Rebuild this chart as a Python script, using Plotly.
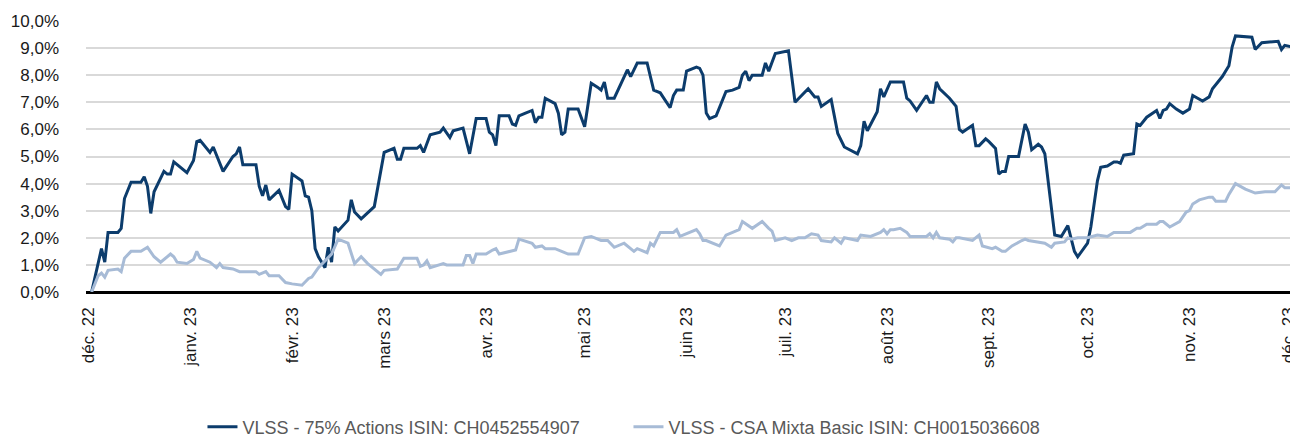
import plotly.graph_objects as go

# --- data (performance in %) ---
dates_actions = [
    "2022-12-02", "2022-12-05", "2022-12-06", "2022-12-07", "2022-12-10", "2022-12-11", "2022-12-12",
    "2022-12-14", "2022-12-17", "2022-12-18", "2022-12-19", "2022-12-20", "2022-12-21", "2022-12-24",
    "2022-12-25", "2022-12-26", "2022-12-27", "2022-12-29", "2022-12-31", "2023-01-02", "2023-01-03",
    "2023-01-04", "2023-01-07", "2023-01-08", "2023-01-11", "2023-01-14", "2023-01-15", "2023-01-16",
    "2023-01-17", "2023-01-21", "2023-01-22", "2023-01-23", "2023-01-24", "2023-01-25", "2023-01-28",
    "2023-01-30", "2023-01-31", "2023-02-01", "2023-02-04", "2023-02-05", "2023-02-06", "2023-02-07",
    "2023-02-08", "2023-02-09", "2023-02-11", "2023-02-12", "2023-02-13", "2023-02-14", "2023-02-15",
    "2023-02-18", "2023-02-19", "2023-02-20", "2023-02-22", "2023-02-26", "2023-03-01", "2023-03-04",
    "2023-03-05", "2023-03-06", "2023-03-07", "2023-03-11", "2023-03-12", "2023-03-13", "2023-03-15",
    "2023-03-18", "2023-03-19", "2023-03-21", "2023-03-22", "2023-03-25", "2023-03-27", "2023-03-29",
    "2023-04-01", "2023-04-02", "2023-04-03", "2023-04-04", "2023-04-05", "2023-04-08", "2023-04-09",
    "2023-04-10", "2023-04-11", "2023-04-13", "2023-04-15", "2023-04-16", "2023-04-17", "2023-04-18",
    "2023-04-19", "2023-04-22", "2023-04-23", "2023-04-24", "2023-04-25", "2023-04-26", "2023-04-29",
    "2023-05-01", "2023-05-03", "2023-05-05", "2023-05-06", "2023-05-07", "2023-05-08", "2023-05-10",
    "2023-05-11", "2023-05-14", "2023-05-15", "2023-05-17", "2023-05-20", "2023-05-22", "2023-05-24",
    "2023-05-27", "2023-05-28", "2023-05-29", "2023-05-31", "2023-06-01", "2023-06-04", "2023-06-05",
    "2023-06-06", "2023-06-07", "2023-06-08", "2023-06-10", "2023-06-13", "2023-06-15", "2023-06-17",
    "2023-06-18", "2023-06-19", "2023-06-20", "2023-06-21", "2023-06-24", "2023-06-25", "2023-06-26",
    "2023-06-28", "2023-07-02", "2023-07-04", "2023-07-08", "2023-07-10", "2023-07-11", "2023-07-12",
    "2023-07-15", "2023-07-17", "2023-07-19", "2023-07-23", "2023-07-24", "2023-07-25", "2023-07-26",
    "2023-07-29", "2023-07-30", "2023-07-31", "2023-08-02", "2023-08-06", "2023-08-07", "2023-08-08",
    "2023-08-10", "2023-08-13", "2023-08-14", "2023-08-15", "2023-08-16", "2023-08-17", "2023-08-20",
    "2023-08-22", "2023-08-23", "2023-08-24", "2023-08-27", "2023-08-28", "2023-08-29", "2023-08-31",
    "2023-09-01", "2023-09-03", "2023-09-04", "2023-09-05", "2023-09-06", "2023-09-07", "2023-09-10",
    "2023-09-12", "2023-09-13", "2023-09-14", "2023-09-16", "2023-09-17", "2023-09-18", "2023-09-21",
    "2023-09-23", "2023-09-25", "2023-09-26", "2023-09-27", "2023-09-28", "2023-10-01", "2023-10-02",
    "2023-10-04", "2023-10-05", "2023-10-07", "2023-10-09", "2023-10-10", "2023-10-11", "2023-10-12",
    "2023-10-15", "2023-10-16", "2023-10-17", "2023-10-19", "2023-10-22", "2023-10-23", "2023-10-24",
    "2023-10-25", "2023-10-26", "2023-10-28", "2023-10-30", "2023-11-01", "2023-11-02", "2023-11-05",
    "2023-11-07", "2023-11-08", "2023-11-11", "2023-11-13", "2023-11-14", "2023-11-15", "2023-11-20",
    "2023-11-21", "2023-11-23", "2023-11-28", "2023-11-29", "2023-11-30", "2023-12-02",
]
values_actions = [
    0.0, 1.6, 1.1, 2.2, 2.2, 2.35, 3.45,
    4.05, 4.05, 4.25, 3.9, 2.9, 3.7, 4.45,
    4.35, 4.35, 4.8, 4.6, 4.4, 4.85, 5.55,
    5.6, 5.15, 5.35, 4.45, 5.0, 5.1, 5.35,
    4.7, 4.7, 3.9, 3.55, 3.95, 3.4, 3.75,
    3.15, 3.05, 4.35, 4.1, 3.55, 3.5, 3.0,
    1.6, 1.3, 0.9, 1.65, 1.1, 2.4, 2.25,
    2.65, 3.4, 2.95, 2.7, 3.15, 5.15, 5.3,
    4.9, 4.9, 5.3, 5.3, 5.4, 5.15, 5.8,
    5.9, 6.05, 5.7, 5.95, 6.05, 5.1, 6.4,
    6.4, 5.9, 5.8, 5.4, 6.5, 6.5, 6.2,
    6.15, 6.5, 6.6, 6.7, 6.25, 6.45, 6.45,
    7.15, 6.95, 6.6, 5.8, 5.9, 6.75, 6.75,
    6.1, 7.7, 7.55, 7.45, 7.75, 7.15, 7.15,
    7.4, 8.2, 7.95, 8.45, 8.45, 7.45, 7.35,
    6.8, 7.25, 7.45, 7.45, 8.15, 8.3, 8.25,
    8.0, 6.6, 6.4, 6.5, 7.4, 7.45, 7.55,
    8.0, 8.15, 7.8, 8.0, 8.0, 8.45, 8.15,
    8.8, 8.9, 7.0, 7.5, 7.2, 7.2, 6.85,
    7.1, 5.85, 5.35, 5.1, 5.4, 6.3, 5.95,
    6.65, 7.5, 7.2, 7.75, 7.75, 7.15, 7.05,
    6.7, 7.25, 7.0, 7.0, 7.75, 7.5, 7.15,
    6.85, 6.0, 5.9, 6.15, 5.4, 5.4, 5.65,
    5.55, 5.3, 4.35, 4.45, 4.45, 5.0, 5.0,
    6.2, 5.9, 5.25, 5.45, 5.35, 5.1, 2.1,
    2.05, 2.45, 1.95, 1.5, 1.3, 1.8, 2.4,
    4.1, 4.6, 4.65, 4.8, 4.8, 4.75, 5.05,
    5.1, 6.2, 6.15, 6.45, 6.7, 6.4, 6.7,
    6.75, 6.95, 6.75, 6.6, 6.75, 7.25, 7.05,
    7.2, 7.5, 7.95, 8.35, 9.05, 9.45, 9.4,
    8.95, 9.2, 9.25, 8.95, 9.1, 9.05,
]

dates_mixta = [
    "2022-12-02", "2022-12-04", "2022-12-05", "2022-12-06", "2022-12-07", "2022-12-10", "2022-12-11",
    "2022-12-12", "2022-12-14", "2022-12-17", "2022-12-19", "2022-12-21", "2022-12-23", "2022-12-26",
    "2022-12-27", "2022-12-28", "2022-12-31", "2023-01-02", "2023-01-03", "2023-01-04", "2023-01-07",
    "2023-01-09", "2023-01-10", "2023-01-11", "2023-01-14", "2023-01-16", "2023-01-21", "2023-01-22",
    "2023-01-24", "2023-01-25", "2023-01-28", "2023-01-30", "2023-02-01", "2023-02-04", "2023-02-06",
    "2023-02-07", "2023-02-09", "2023-02-12", "2023-02-13", "2023-02-15", "2023-02-18", "2023-02-20",
    "2023-02-22", "2023-02-24", "2023-02-26", "2023-02-28", "2023-03-01", "2023-03-05", "2023-03-07",
    "2023-03-11", "2023-03-12", "2023-03-13", "2023-03-14", "2023-03-15", "2023-03-19", "2023-03-20",
    "2023-03-25", "2023-03-26", "2023-03-27", "2023-03-28", "2023-03-29", "2023-04-01", "2023-04-03",
    "2023-04-04", "2023-04-05", "2023-04-10", "2023-04-11", "2023-04-15", "2023-04-16", "2023-04-18",
    "2023-04-19", "2023-04-22", "2023-04-24", "2023-04-26", "2023-04-29", "2023-05-01", "2023-05-03",
    "2023-05-06", "2023-05-08", "2023-05-10", "2023-05-13", "2023-05-16", "2023-05-17", "2023-05-20",
    "2023-05-21", "2023-05-22", "2023-05-24", "2023-05-28", "2023-05-29", "2023-05-30", "2023-06-04",
    "2023-06-05", "2023-06-06", "2023-06-07", "2023-06-11", "2023-06-13", "2023-06-17", "2023-06-18",
    "2023-06-21", "2023-06-24", "2023-06-26", "2023-06-27", "2023-06-28", "2023-07-01", "2023-07-03",
    "2023-07-05", "2023-07-07", "2023-07-09", "2023-07-11", "2023-07-12", "2023-07-15", "2023-07-16",
    "2023-07-18", "2023-07-19", "2023-07-23", "2023-07-24", "2023-07-27", "2023-07-30", "2023-07-31",
    "2023-08-01", "2023-08-02", "2023-08-03", "2023-08-05", "2023-08-07", "2023-08-08", "2023-08-13",
    "2023-08-14", "2023-08-15", "2023-08-16", "2023-08-17", "2023-08-20", "2023-08-21", "2023-08-22",
    "2023-08-23", "2023-08-27", "2023-08-29", "2023-08-30", "2023-09-02", "2023-09-03", "2023-09-05",
    "2023-09-06", "2023-09-08", "2023-09-11", "2023-09-12", "2023-09-13", "2023-09-18", "2023-09-20",
    "2023-09-21", "2023-09-24", "2023-09-25", "2023-09-26", "2023-09-28", "2023-10-01", "2023-10-04",
    "2023-10-07", "2023-10-09", "2023-10-14", "2023-10-16", "2023-10-17", "2023-10-19", "2023-10-22",
    "2023-10-23", "2023-10-24", "2023-10-26", "2023-10-29", "2023-10-31", "2023-11-01", "2023-11-02",
    "2023-11-04", "2023-11-07", "2023-11-08", "2023-11-09", "2023-11-12", "2023-11-13", "2023-11-15",
    "2023-11-18", "2023-11-21", "2023-11-24", "2023-11-27", "2023-11-29", "2023-11-30", "2023-12-02",
]
values_mixta = [
    0.0, 0.6, 0.7, 0.55, 0.8, 0.85, 0.75,
    1.25, 1.5, 1.5, 1.65, 1.3, 1.1, 1.4,
    1.3, 1.1, 1.05, 1.2, 1.5, 1.25, 1.1,
    0.9, 1.05, 0.9, 0.85, 0.75, 0.75, 0.65,
    0.75, 0.6, 0.6, 0.35, 0.3, 0.25, 0.5,
    0.55, 0.9, 1.3, 1.4, 1.95, 1.8, 1.05,
    1.3, 1.05, 0.85, 0.65, 0.8, 0.85, 1.25,
    1.25, 0.95, 1.0, 1.15, 0.9, 1.05, 1.0,
    1.0, 1.35, 1.35, 1.05, 1.4, 1.4, 1.55,
    1.6, 1.4, 1.55, 1.95, 1.8, 1.65, 1.7,
    1.6, 1.6, 1.5, 1.4, 1.4, 2.0, 2.05,
    1.9, 1.9, 1.65, 1.8, 1.5, 1.6, 1.45,
    1.8, 1.7, 2.2, 2.2, 2.3, 2.05, 2.3,
    2.15, 1.9, 1.9, 1.7, 2.1, 2.3, 2.6,
    2.35, 2.6, 2.35, 2.25, 1.9, 2.0, 1.9,
    2.0, 2.0, 2.15, 2.1, 1.9, 1.85, 2.0,
    1.8, 2.0, 1.9, 2.1, 2.05, 2.2, 2.3,
    2.15, 2.3, 2.3, 2.35, 2.2, 2.05, 2.05,
    2.15, 2.0, 2.2, 2.0, 1.95, 1.85, 2.0,
    2.0, 1.9, 2.1, 1.7, 1.6, 1.65, 1.5,
    1.5, 1.7, 1.9, 1.95, 1.9, 1.8, 1.65,
    1.8, 1.85, 2.0, 1.95, 2.0, 2.0, 2.1,
    2.05, 2.2, 2.2, 2.35, 2.35, 2.5, 2.5,
    2.6, 2.6, 2.4, 2.6, 2.95, 3.0, 3.25,
    3.4, 3.5, 3.5, 3.35, 3.35, 3.6, 4.0,
    3.8, 3.65, 3.7, 3.7, 3.95, 3.85, 3.85,
]

tick_dates = [
    "2022-12-01", "2023-01-01", "2023-02-01", "2023-03-01", "2023-04-01", "2023-05-01", "2023-06-01",
    "2023-07-01", "2023-08-01", "2023-09-01", "2023-10-01", "2023-11-01", "2023-12-01",
]
tick_labels = [
    "déc. 22", "janv. 23", "févr. 23", "mars 23", "avr. 23", "mai 23", "juin 23",
    "juil. 23", "août 23", "sept. 23", "oct. 23", "nov. 23", "déc. 23",
]
y_ticks = [0, 1, 2, 3, 4, 5, 6, 7, 8, 9, 10]
y_labels = ["0,0%", "1,0%", "2,0%", "3,0%", "4,0%", "5,0%", "6,0%", "7,0%", "8,0%", "9,0%", "10,0%"]

name_actions = "VLSS - 75% Actions ISIN: CH0452554907"
name_mixta = "VLSS - CSA Mixta Basic ISIN: CH0015036608"

DARK = "#0c3c6c"
LIGHT = "#a7bbd6"
FONT = "Liberation Sans, Arial, sans-serif"

fig = go.Figure()
fig.add_trace(go.Scatter(x=dates_actions, y=values_actions, mode="lines", name=name_actions,
                         line=dict(color=DARK, width=3)))
fig.add_trace(go.Scatter(x=dates_mixta, y=values_mixta, mode="lines", name=name_mixta,
                         line=dict(color=LIGHT, width=3)))

# the page body adds an 8px offset, so the figure is 8px smaller than the window
fig.update_layout(
    width=1290, height=431,
    margin=dict(l=78, r=5, t=13, b=147, autoexpand=False),
    paper_bgcolor="white", plot_bgcolor="white",
    font=dict(family=FONT, size=17, color="#1a1a1a"),
    showlegend=True,
    legend=dict(orientation="h", x=0.0965, xanchor="left", y=-0.498, yanchor="middle",
                font=dict(family=FONT, size=18, color="#595959"),
                entrywidth=381, entrywidthmode="pixels",
                bgcolor="rgba(0,0,0,0)", itemwidth=30, tracegroupgap=0),
)
fig.update_xaxes(
    type="date", automargin=False,
    range=["2022-11-30 07:00", "2023-12-02 12:00"],
    tickvals=tick_dates, ticktext=tick_labels, tickangle=-90,
    showgrid=False, zeroline=False, showline=False, ticks="",
    ticklabelstandoff=11,
    tickfont=dict(family=FONT, size=17, color="#1a1a1a"),
)
fig.update_yaxes(
    automargin=False,
    range=[0, 10], tickvals=y_ticks, ticktext=y_labels,
    showgrid=True, gridcolor="#d9d9d9", gridwidth=1.5,
    zeroline=True, zerolinecolor="#000000", zerolinewidth=3,
    showline=False, ticks="", ticklabelstandoff=26,
    tickfont=dict(family=FONT, size=17, color="#1a1a1a"),
)

fig.write_html("out.html")
